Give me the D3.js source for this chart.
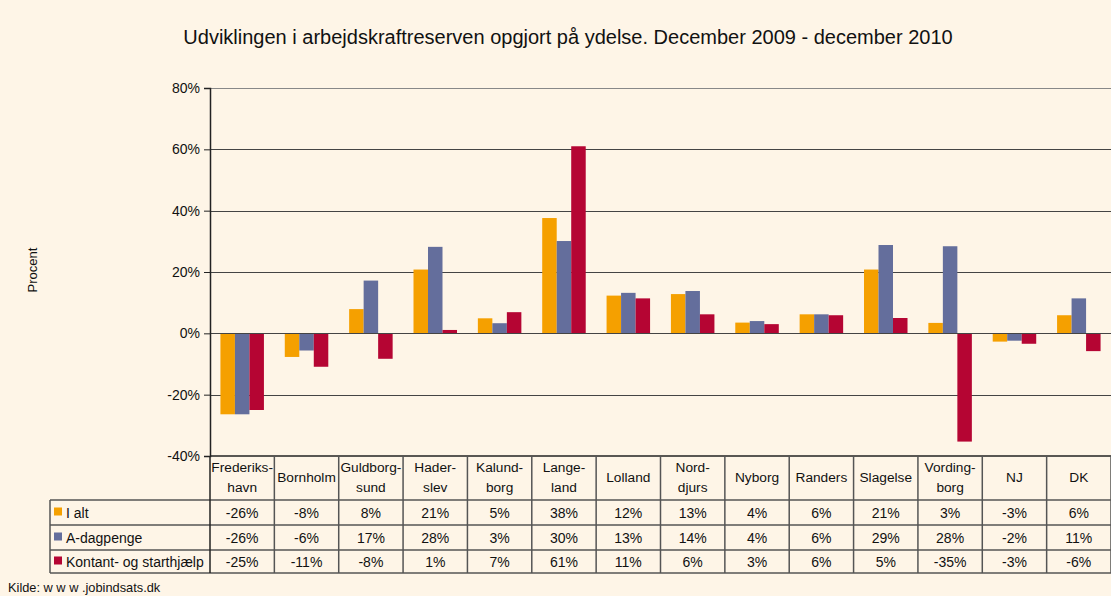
<!DOCTYPE html>
<html>
<head>
<meta charset="utf-8">
<script src="https://cdn.jsdelivr.net/npm/d3@7"></script>
<style>
  body { margin: 0; background: #fef5e7; }
  svg { display: block; font-family: "Liberation Sans", Arial, sans-serif; }
</style>
</head>
<body>
<div id="chart"></div>
<script>
// data
const categories = ['Frederiks-\nhavn', 'Bornholm', 'Guldborg-\nsund', 'Hader-\nslev', 'Kalund-\nborg',
  'Lange-\nland', 'Lolland', 'Nord-\ndjurs', 'Nyborg', 'Randers', 'Slagelse', 'Vording-\nborg', 'NJ', 'DK'];
const seriesNames = ['I alt', 'A-dagpenge', 'Kontant- og starthjælp'];
const iAlt = [-26.4, -7.7, 7.9, 20.8, 4.9, 37.6, 12.3, 12.8, 3.5, 6.2, 20.8, 3.4, -2.7, 5.9];
const aDagpenge = [-26.4, -5.6, 17.2, 28.2, 3.3, 30.1, 13.2, 13.8, 4.0, 6.2, 28.8, 28.4, -2.4, 11.4];
const kontant = [-25.0, -10.9, -8.3, 1.1, 6.9, 61.0, 11.4, 6.2, 3.0, 5.9, 5.0, -35.3, -3.4, -5.8];
const yTicks = [80, 60, 40, 20, 0, -20, -40];

const series = [iAlt, aDagpenge, kontant];
const colors = ['#f5a000', '#646e9c', '#b50533'];

const width = 1111, height = 596;
const plotLeft = 210, plotRight = 1111, plotTop = 88, plotBottom = 456;
const rowY = [500, 525, 550, 573];
const tableLeft = 50;

const svg = d3.select('#chart').append('svg')
  .attr('width', width).attr('height', height);

const x = d3.scaleBand()
  .domain(d3.range(categories.length))
  .range([plotLeft, plotRight])
  .paddingInner(0.324)
  .paddingOuter(0.162);

const xs = d3.scaleBand()
  .domain(d3.range(series.length))
  .range([0, x.bandwidth()]);

const y = d3.scaleLinear().domain([-40, 80]).range([plotBottom, plotTop]);

// title
svg.append('text')
  .attr('x', 568).attr('y', 44)
  .attr('text-anchor', 'middle')
  .attr('font-size', 20)
  .attr('fill', '#111')
  .text('Udviklingen i arbejdskraftreserven opgjort på ydelse. December 2009 - december 2010');

// y label
svg.append('text')
  .attr('transform', 'translate(37,270) rotate(-90)')
  .attr('text-anchor', 'middle')
  .attr('font-size', 13)
  .attr('fill', '#111')
  .text('Procent');

// gridlines
svg.append('g').selectAll('line')
  .data(yTicks.filter(d => d > -40))
  .join('line')
  .attr('x1', plotLeft).attr('x2', plotRight)
  .attr('y1', d => Math.round(y(d)) + 0.5).attr('y2', d => Math.round(y(d)) + 0.5)
  .attr('stroke', d => d === 80 ? '#888' : '#444');

// bars
svg.append('g').selectAll('g')
  .data(series)
  .join('g')
  .attr('fill', (d, i) => colors[i])
  .selectAll('rect')
  .data((d, si) => d.map((v, ci) => ({ v, ci, si })))
  .join('rect')
  .attr('x', d => x(d.ci) + xs(d.si))
  .attr('width', xs.bandwidth())
  .attr('y', d => y(Math.max(0, d.v)))
  .attr('height', d => Math.abs(y(d.v) - y(0)));

// redraw zero line over bars
svg.append('line')
  .attr('x1', plotLeft).attr('x2', plotRight)
  .attr('y1', Math.round(y(0)) + 0.5).attr('y2', Math.round(y(0)) + 0.5)
  .attr('stroke', '#444');

// y axis
const yAxis = svg.append('g')
  .attr('transform', `translate(${plotLeft},0)`)
  .call(d3.axisLeft(y).tickValues(yTicks).tickSize(6).tickPadding(4).tickFormat(d => d + '%'));
yAxis.select('.domain').attr('stroke', '#222').attr('stroke-width', 1.5);
yAxis.selectAll('.tick line').attr('stroke', '#222');
yAxis.selectAll('.tick text').attr('font-size', 14).attr('fill', '#111')
  .attr('font-family', '"Liberation Sans", Arial, sans-serif');

// table
const tbl = svg.append('g').attr('stroke', '#555').attr('stroke-width', 1.5);
const step = x.step();
const colEdge = i => plotLeft + i * step;

tbl.append('line').attr('x1', plotLeft).attr('x2', plotRight).attr('y1', plotBottom).attr('y2', plotBottom).attr('stroke', '#222');
rowY.forEach(ry => {
  tbl.append('line').attr('x1', tableLeft).attr('x2', plotRight).attr('y1', ry).attr('y2', ry);
});
d3.range(categories.length + 1).forEach(i => {
  tbl.append('line')
    .attr('x1', colEdge(i)).attr('x2', colEdge(i))
    .attr('y1', plotBottom).attr('y2', rowY[3])
    .attr('stroke', i === 0 ? '#222' : '#555');
});
tbl.append('line').attr('x1', tableLeft).attr('x2', tableLeft).attr('y1', rowY[0]).attr('y2', rowY[3]);

// header labels
const header = svg.append('g').attr('font-size', 13.7).attr('text-anchor', 'middle').attr('fill', '#111');
categories.forEach((c, i) => {
  const lines = c.split('\n');
  const cx = x(i) + x.bandwidth() / 2;
  const t = header.append('text').attr('x', cx);
  if (lines.length === 1) {
    t.attr('y', 482).text(c);
  } else {
    t.attr('y', 472).text(lines[0]);
    header.append('text').attr('x', cx).attr('y', 492).text(lines[1]);
  }
});

// rows
const fmt = v => Math.round(v) + '%';
series.forEach((s, si) => {
  const cy = (rowY[si] + rowY[si + 1]) / 2 + 5;
  svg.append('rect')
    .attr('x', 54).attr('y', cy - 10).attr('width', 8).attr('height', 8)
    .attr('fill', colors[si]);
  svg.append('text')
    .attr('x', 66).attr('y', cy).attr('font-size', 14).attr('fill', '#111')
    .text(seriesNames[si]);
  svg.append('g').selectAll('text')
    .data(s)
    .join('text')
    .attr('x', (d, i) => x(i) + x.bandwidth() / 2)
    .attr('y', cy)
    .attr('text-anchor', 'middle')
    .attr('font-size', 14).attr('fill', '#111')
    .text(fmt);
});

// source
svg.append('text')
  .attr('x', 8).attr('y', 592)
  .attr('font-size', 12.8).attr('fill', '#111')
  .text('Kilde: w w w .jobindsats.dk');
</script>
</body>
</html>
